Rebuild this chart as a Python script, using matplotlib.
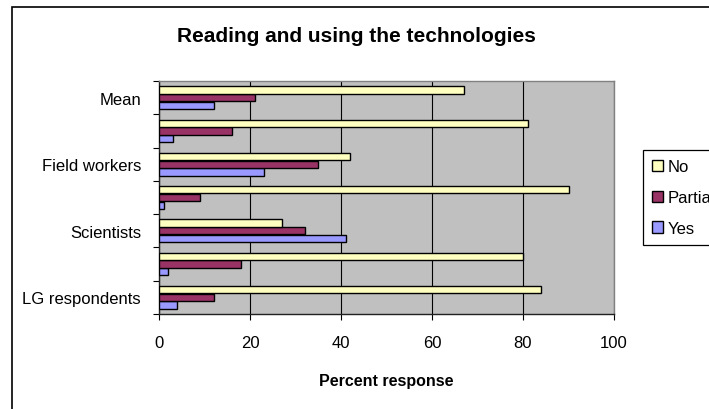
import numpy as np
import matplotlib.pyplot as plt
from matplotlib.patches import Rectangle

plt.rcParams['font.family'] = ['Liberation Sans', 'DejaVu Sans']

# survey groups, bottom to top (every other label is left blank on the axis)
categories = ["LG respondents", "", "Scientists", "", "Field workers", "", "Mean"]
yes = [4, 2, 41, 1, 23, 3, 12]
partial = [12, 18, 32, 9, 35, 16, 21]
no = [84, 80, 27, 90, 42, 81, 67]

fig = plt.figure(figsize=(7.09, 4.10), dpi=100)
ax = fig.add_axes([159/709, 1 - 315/410, 455/709, 233/410])
ax.set_facecolor('#C0C0C0')

y = np.arange(len(categories))
h = 0.22
step = 0.232
b_yes = ax.barh(y - step, yes, height=h, color='#9999FF', edgecolor='black', linewidth=1.0, label='Yes', zorder=3)
b_part = ax.barh(y, partial, height=h, color='#993366', edgecolor='black', linewidth=1.0, label='Partial', zorder=3)
b_no = ax.barh(y + step, no, height=h, color='#FFFFC0', edgecolor='black', linewidth=1.0, label='No', zorder=3)

ax.set_xlim(0, 100)
ax.set_ylim(-0.5, len(categories) - 0.5)
ax.set_xticks(np.arange(0, 101, 20))
ax.tick_params(axis='x', direction='out', length=4, width=0.8, pad=11, labelsize=12)
ax.xaxis.grid(True, color='black', linewidth=0.8, zorder=1)
ax.set_axisbelow(True)

ax.set_yticks(y)
ax.set_yticklabels(categories)
ax.tick_params(axis='y', which='major', length=0, pad=13, labelsize=12)
ax.set_yticks(np.arange(-0.5, len(categories), 1), minor=True)
ax.tick_params(axis='y', which='minor', direction='out', length=4, width=0.8)

ax.set_xlabel('Percent response', fontsize=11.5, fontweight='bold', labelpad=17)

for s in ['left', 'bottom']:
    ax.spines[s].set_color('#202020')
    ax.spines[s].set_linewidth(1.0)
for s in ['top', 'right']:
    ax.spines[s].set_color('#808080')
    ax.spines[s].set_linewidth(1.0)

fig.text(356/709, 1 - 37/410, 'Reading and using the technologies', ha='center', va='center',
         fontsize=15, fontweight='bold')

leg = fig.legend(handles=[b_no, b_part, b_yes], labels=['No', 'Partial', 'Yes'],
                 loc='upper left', bbox_to_anchor=(643/709, 1 - 151/410), fontsize=12,
                 frameon=True, fancybox=False, edgecolor='black', framealpha=1,
                 handlelength=0.65, handleheight=0.65, handletextpad=0.3,
                 labelspacing=0.95, borderpad=0.55, borderaxespad=0)
leg.get_frame().set_linewidth(0.9)

# chart border running off the right and bottom edges
fig.patches.append(Rectangle((11.5/709, -0.1), 1.2, 1.1 - 8/410, transform=fig.transFigure,
                             fill=False, edgecolor='black', linewidth=1.2))

fig.savefig('out.png', dpi=100)
